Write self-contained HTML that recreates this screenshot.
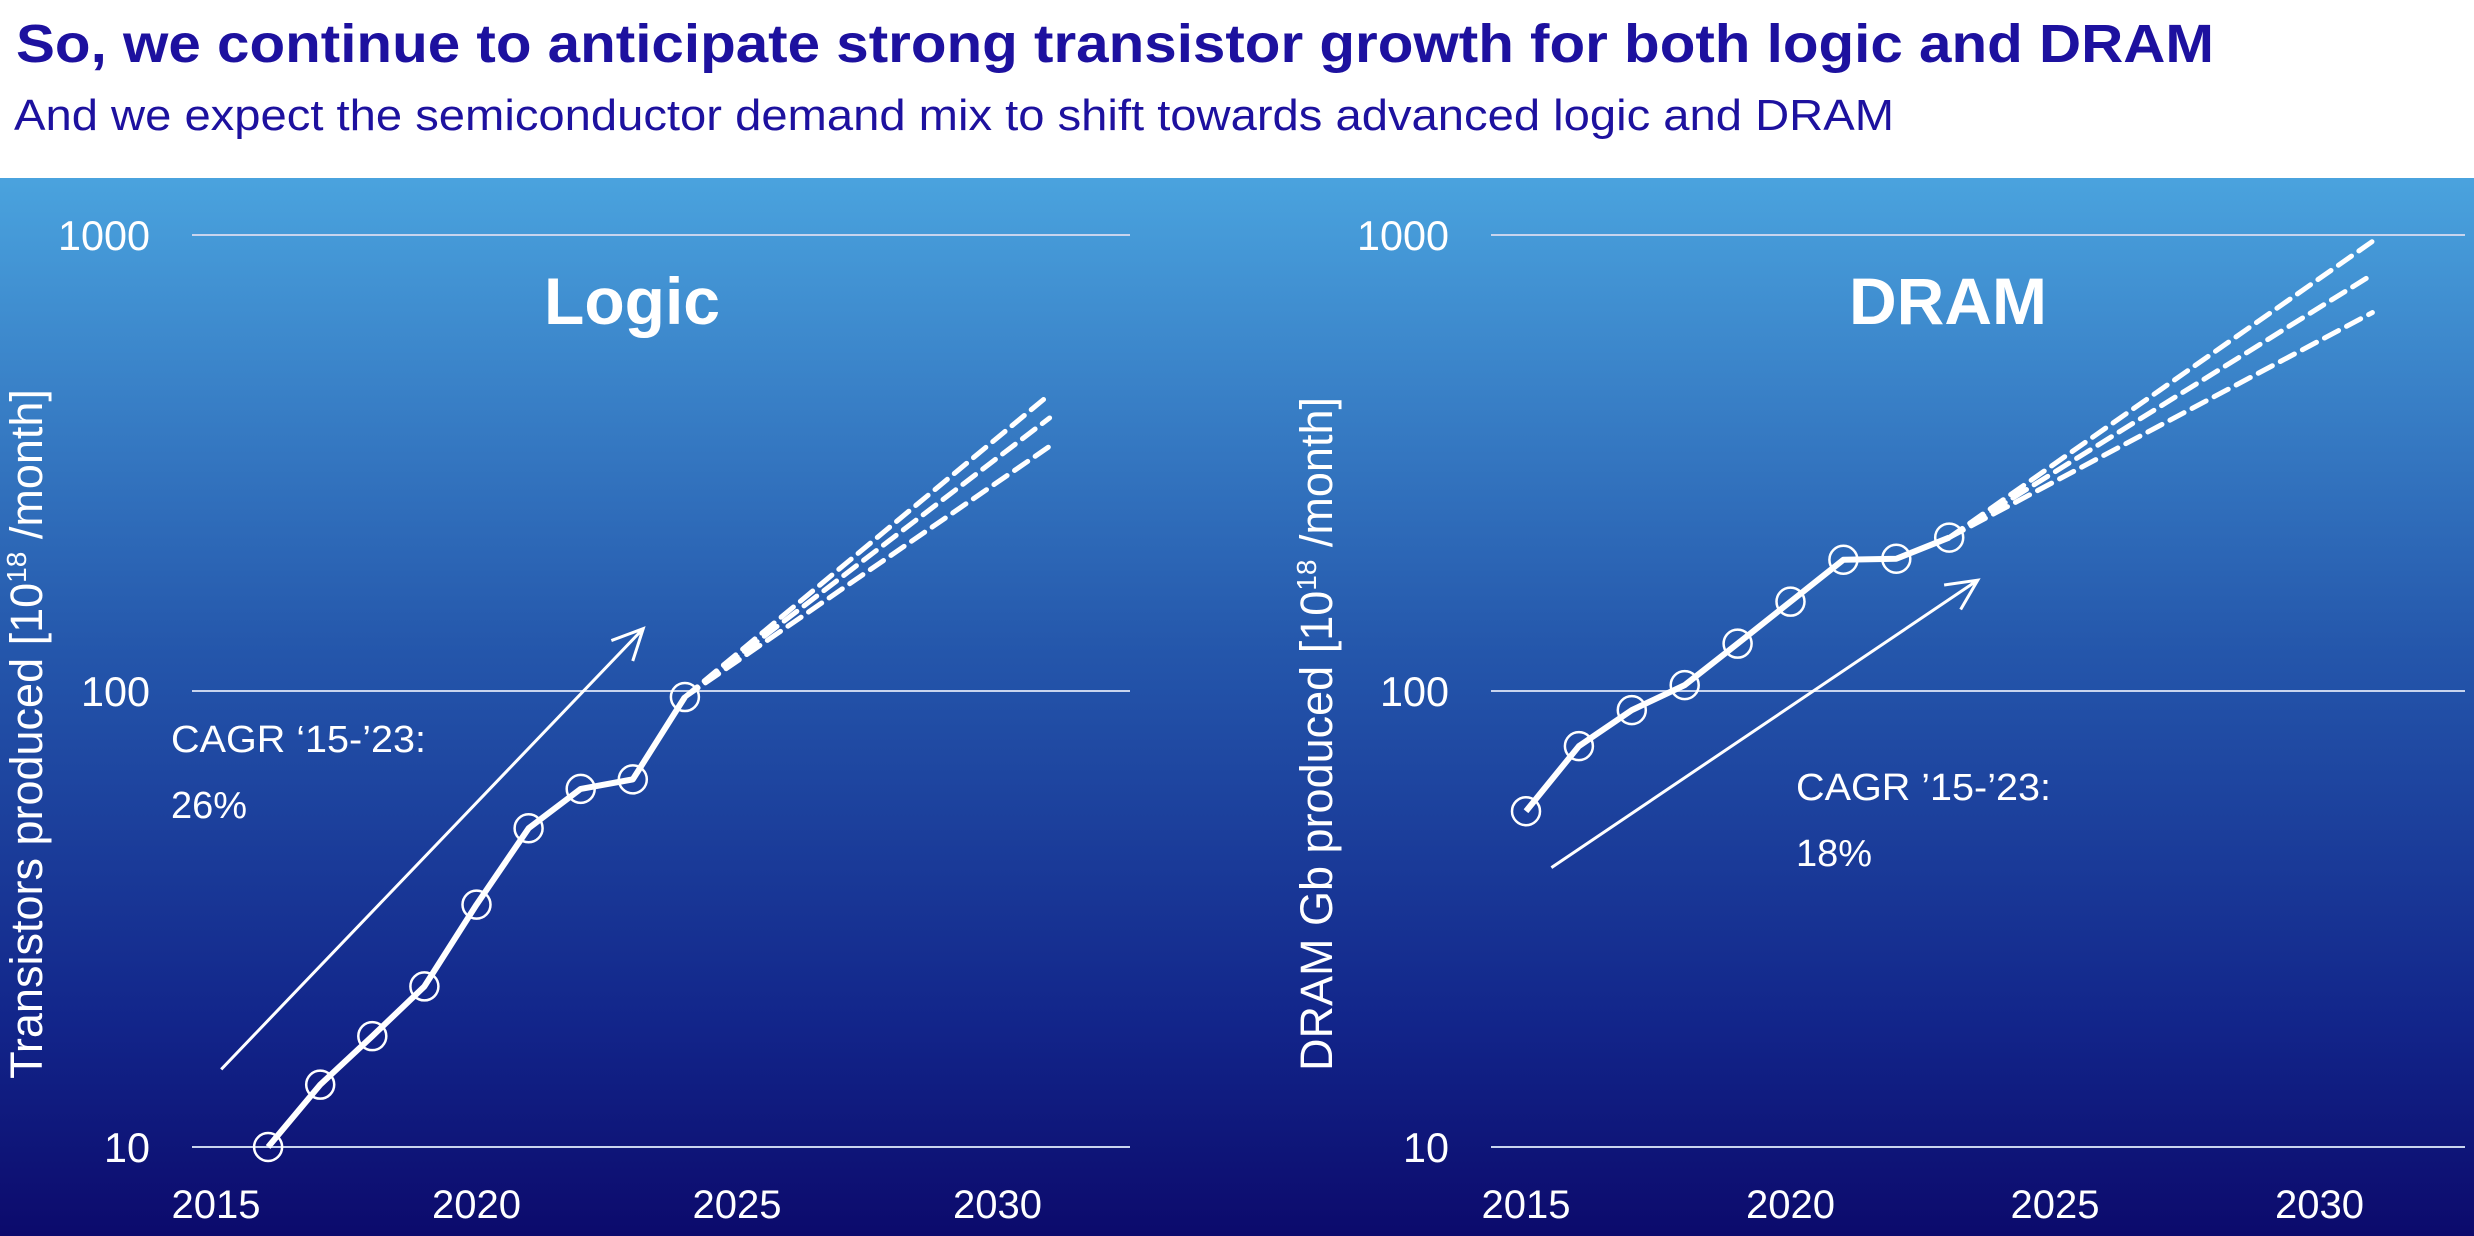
<!DOCTYPE html>
<html><head><meta charset="utf-8"><style>
html,body{margin:0;padding:0;background:#fff}
svg{display:block;font-family:"Liberation Sans",Arial,sans-serif}
</style></head><body>
<svg id="c" width="2474" height="1236" viewBox="0 0 2474 1236">
<defs><linearGradient id="bg" x1="0" y1="0" x2="0" y2="1">
<stop offset="0" stop-color="#4aa3de"/><stop offset="0.45" stop-color="#2456ab"/><stop offset="0.8" stop-color="#12258a"/><stop offset="1" stop-color="#0c0a6c"/></linearGradient></defs>
<rect width="2474" height="178" fill="#fff"/>
<text x="16" y="62" font-size="54" font-weight="bold" fill="#1d119f" textLength="2198" lengthAdjust="spacingAndGlyphs">So, we continue to anticipate strong transistor growth for both logic and DRAM</text>
<text x="14" y="130" font-size="44" fill="#1d119f" textLength="1880" lengthAdjust="spacingAndGlyphs">And we expect the semiconductor demand mix to shift towards advanced logic and DRAM</text>
<rect y="178" width="2474" height="1058" fill="url(#bg)"/>
<g id="g"></g>
</svg>
<script>
const yTicks=[10,100,1000];
const yTickLabels=["10","100","1000"];
const xTicks=[2015,2020,2025,2030];
const xTickLabels=["2015","2020","2025","2030"];
const logicYears=[2016,2017,2018,2019,2020,2021,2022,2023,2024];
const logicValues=[10,13.7,17.5,22.5,34,50,61,64,97];
const logicProjYears=[2024,2031];
const logicProjHigh=[97,447];
const logicProjMid=[97,397];
const logicProjLow=[97,344];
const logicArrowYears=[2015.1,2023.2];
const logicArrowValues=[14.8,137];
const dramYears=[2015,2016,2017,2018,2019,2020,2021,2022,2023];
const dramValues=[54.5,75.7,90.8,103,127,157,194,195,217];
const dramProjYears=[2023,2031];
const dramProjHigh=[217,968];
const dramProjMid=[217,819];
const dramProjLow=[217,676];
const dramArrowYears=[2015.48,2023.54];
const dramArrowValues=[41,175];

const NS="http://www.w3.org/2000/svg";
const G=document.getElementById('g');
function mk(tag,attrs,parent,txt){const e=document.createElementNS(NS,tag);for(const k in attrs)e.setAttribute(k,attrs[k]);if(txt!==undefined)e.textContent=txt;(parent||G).appendChild(e);return e;}
const yScale=v=>1147-(Math.log10(v)-1)*456;

function panel(cfg){
  const xScale=y=>cfg.x0+(y-2015)*cfg.dx;
  const g=mk('g',{});
  
  
  yTicks.forEach((t,i)=>{
    const l=mk('line',{x1:cfg.gx1,x2:cfg.gx2,y1:yScale(t),y2:yScale(t),stroke:'#c8d4ee','stroke-width':2},g);
    
    
    const tx=mk('text',{x:cfg.lx,y:yScale(t)+15,'font-size':42,fill:'#fff','text-anchor':'end',textLength:yTickLabels[i].length*23,lengthAdjust:'spacingAndGlyphs'},g,yTickLabels[i]);
    
    
  });
  xTicks.forEach((t,i)=>{
    const tx=mk('text',{x:xScale(t),y:1218,'font-size':40,fill:'#fff','text-anchor':'middle'},g,xTickLabels[i]);
    
    
  });
  const yt=mk('text',{transform:`translate(${cfg.tx},734) rotate(-90)`,'font-size':45,fill:'#fff','text-anchor':'middle'},g);
  
  
  yt.innerHTML=cfg.ytitle+' [10<tspan dy="-16" font-size="28">18</tspan><tspan dy="16"> /month]</tspan>';
  const title=mk('text',{x:cfg.titleX,y:324,'font-size':66,'font-weight':'bold',fill:'#fff','text-anchor':'middle'},g,cfg.title);
  
  
  const ax1=xScale(cfg.ay[0]),ay1=yScale(cfg.av[0]),ax2=xScale(cfg.ay[1]),ay2=yScale(cfg.av[1]);
  const ang=Math.atan2(ay2-ay1,ax2-ax1),h=34;
  const ar=mk('path',{d:`M${ax1},${ay1}L${ax2},${ay2}M${ax2-h*Math.cos(ang-0.45)},${ay2-h*Math.sin(ang-0.45)}L${ax2},${ay2}L${ax2-h*Math.cos(ang+0.45)},${ay2-h*Math.sin(ang+0.45)}`,stroke:'#fff','stroke-width':3,fill:'none'},g);
  
  
  const c1=mk('text',{x:cfg.cx,y:cfg.cy,'font-size':38,fill:'#fff',textLength:255,lengthAdjust:'spacingAndGlyphs'},g,cfg.cagr);
  
  
  const c2=mk('text',{x:cfg.cx,y:cfg.cy+66,'font-size':38,fill:'#fff'},g,cfg.pct);
  
  
  [['high',cfg.ph],['mid',cfg.pm],['low',cfg.pl]].forEach(([n,vals])=>{
    const p=mk('line',{x1:xScale(cfg.py[0]),y1:yScale(vals[0]),x2:xScale(cfg.py[1]),y2:yScale(vals[1]),stroke:'#fff','stroke-width':5,'stroke-dasharray':'16 9','stroke-linecap':'round'},g);
    
    
  });
  const pl=mk('polyline',{points:cfg.years.map((y,i)=>xScale(y)+','+yScale(cfg.vals[i])).join(' '),fill:'none',stroke:'#fff','stroke-width':6,'stroke-linejoin':'round'},g);
  
  
  cfg.years.forEach((y,i)=>{
    const c=mk('circle',{cx:xScale(y),cy:yScale(cfg.vals[i]),r:14,fill:'none',stroke:'#fff','stroke-width':2.5},g);
    
    
  });
}
panel({name:'logic',x0:216,dx:52.1,gx1:192,gx2:1130,lx:150,tx:42,ytitle:'Transistors produced',title:'Logic',titleX:632,
  ay:logicArrowYears,av:logicArrowValues,cx:171,cy:752,cagr:'CAGR \u201815-\u201923:',pct:'26%',
  py:logicProjYears,ph:logicProjHigh,pm:logicProjMid,pl:logicProjLow,years:logicYears,vals:logicValues});
panel({name:'dram',x0:1526,dx:52.9,gx1:1491,gx2:2465,lx:1449,tx:1332,ytitle:'DRAM Gb produced',title:'DRAM',titleX:1948,
  ay:dramArrowYears,av:dramArrowValues,cx:1796,cy:800,cagr:'CAGR \u201915-\u201923:',pct:'18%',
  py:dramProjYears,ph:dramProjHigh,pm:dramProjMid,pl:dramProjLow,years:dramYears,vals:dramValues});
</script>
</body></html>
